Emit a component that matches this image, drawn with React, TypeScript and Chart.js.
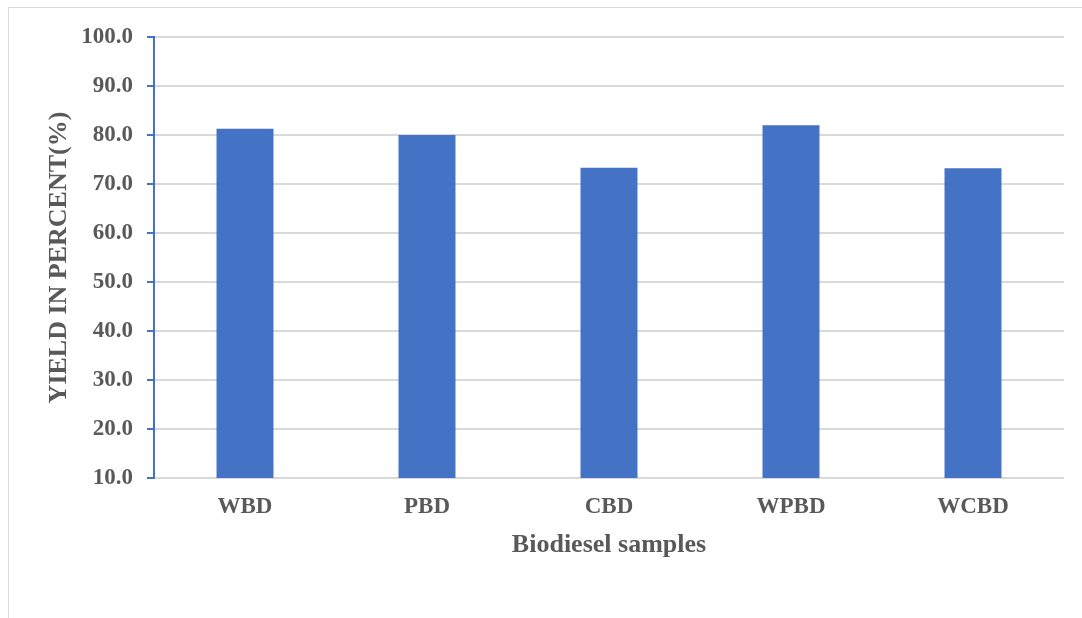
import React, { useEffect, useRef } from "react";
import { Chart, registerables } from "chart.js";

Chart.register(...registerables);

const categories = ["WBD", "PBD", "CBD", "WPBD", "WCBD"];
const yieldValues = [81.3, 80.0, 73.3, 82.0, 73.2];
const yMin = 10;
const yMax = 100;
const yStep = 10;
const xTitle = "Biodiesel samples";
const yTitle = "YIELD IN PERCENT(%)";

const FONT = "'Liberation Serif', 'Times New Roman', serif";
const TEXT = "#595959";
const GRID = "#d9d9d9";
const BLUE = "#4472c4";

export default function App() {
  const ref = useRef<HTMLCanvasElement>(null);

  useEffect(() => {
    const canvas = ref.current;
    if (!canvas) return;
    const chart = new Chart(canvas, {
      type: "bar",
      data: {
        labels: categories,
        datasets: [
          {
            label: "Yield",
            data: yieldValues,
            backgroundColor: BLUE,
            borderWidth: 0,
            categoryPercentage: 1,
            barPercentage: 0.313,
          },
        ],
      },
      options: {
        animation: false,
        responsive: false,
        layout: { padding: { left: 0, top: 37, right: 18, bottom: 40 } },
        plugins: { legend: { display: false }, tooltip: { enabled: false } },
        scales: {
          x: {
            grid: { display: false, drawTicks: false, tickLength: 0 },
            border: { display: false },
            ticks: {
              color: TEXT,
              padding: 15,
              font: { family: FONT, size: 23, weight: "bold" },
            },
            title: {
              display: true,
              text: xTitle,
              color: TEXT,
              padding: { top: 0, bottom: 17 },
              font: { family: FONT, size: 26, weight: "bold" },
            },
            afterFit: (s: any) => {
              s.height = 100;
            },
          },
          y: {
            min: yMin,
            max: yMax,
            grid: {
              color: GRID,
              lineWidth: 2,
              tickColor: BLUE,
              tickLength: 7,
              drawTicks: true,
            },
            border: { display: true, color: BLUE, width: 2 },
            ticks: {
              stepSize: yStep,
              color: TEXT,
              padding: 14,
              font: { family: FONT, size: 23, weight: "bold" },
              callback: (v: any) => Number(v).toFixed(1),
            },
            title: {
              display: true,
              text: yTitle,
              color: TEXT,
              padding: { top: 44, bottom: 0 },
              font: { family: FONT, size: 26, weight: "bold" },
            },
            afterFit: (s: any) => {
              s.width = 154;
            },
          },
        },
      },
    });
    return () => chart.destroy();
  }, []);

  return (
    <div
      style={{
        position: "fixed",
        left: 0,
        top: 0,
        width: 1082,
        height: 618,
        overflow: "hidden",
        background: "#fff",
      }}
    >
      <div
        style={{
          position: "absolute",
          left: 8,
          top: 7,
          width: 1200,
          height: 800,
          borderTop: "1px solid #d9d9d9",
          borderLeft: "1px solid #d9d9d9",
        }}
      />
      <canvas
        ref={ref}
        width={1082}
        height={618}
        style={{ position: "absolute", left: 0, top: 0, width: 1082, height: 618 }}
      />
    </div>
  );
}
